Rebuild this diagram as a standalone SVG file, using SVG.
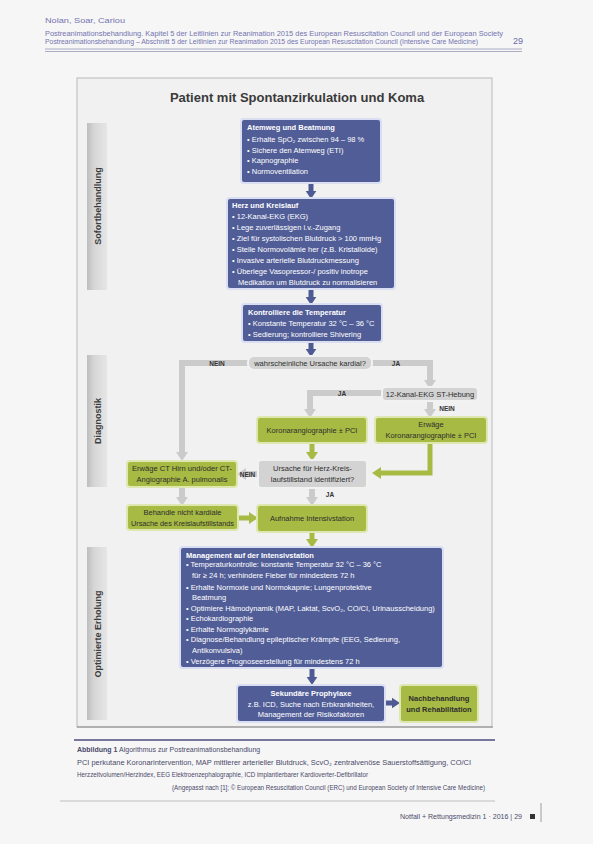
<svg xmlns="http://www.w3.org/2000/svg" width="593" height="844" viewBox="0 0 593 844">
<style>
  text { font-family: "Liberation Sans", Arial, sans-serif; }
  .hdr { font-size: 7px; fill: #7474b0; }
  .title { font-size: 13px; font-weight: bold; fill: #3a3a3a; }
  .side { font-size: 9px; font-weight: bold; fill: #3c3c3c; }
  .pbox { fill: #515d97; stroke: #d9def3; stroke-width: 2; }
  .gbox { fill: #a7ba44; stroke: #dfe7b0; stroke-width: 2; }
  .ybox { fill: #d3d3d3; stroke: #f2f2f2; stroke-width: 2; }
  .wt { font-size: 7.5px; fill: #ffffff; }
  .wtb { font-size: 7.5px; fill: #ffffff; font-weight: bold; }
  .dt { font-size: 7.5px; fill: #2e2e2e; }
  .dtb { font-size: 7.5px; fill: #2e2e2e; font-weight: bold; }
  .lbl { font-size: 6.5px; font-weight: bold; fill: #333333; }
  .c { text-anchor: middle; }
  .cap { font-size: 7px; fill: #4a4a6a; }
  .capb { font-size: 7px; fill: #4a4a6a; font-weight: bold; }
  .grey { fill: none; stroke: #cbcbcb; stroke-width: 6; }
  .green { fill: none; stroke: #a7ba44; stroke-width: 5; }
  .purple { fill: none; stroke: #4e5a94; stroke-width: 5; }
</style>
<defs>
  <linearGradient id="barg" x1="0" y1="0" x2="1" y2="0">
    <stop offset="0" stop-color="#bdbdbd"/>
    <stop offset="0.35" stop-color="#d6d6d6"/>
    <stop offset="1" stop-color="#e6e6e6"/>
  </linearGradient>
  <marker id="ag" viewBox="0 0 9 12" refX="0" refY="6" markerWidth="9" markerHeight="12" markerUnits="userSpaceOnUse" orient="auto">
    <path d="M0,0 L9,6 L0,12 z" fill="#cbcbcb"/>
  </marker>
  <marker id="agr" viewBox="0 0 9 12" refX="0" refY="6" markerWidth="9" markerHeight="12" markerUnits="userSpaceOnUse" orient="auto">
    <path d="M0,0 L9,6 L0,12 z" fill="#a7ba44"/>
  </marker>
  <marker id="ap" viewBox="0 0 9 12" refX="0" refY="6" markerWidth="8" markerHeight="12" markerUnits="userSpaceOnUse" orient="auto">
    <path d="M0,0 L9,6 L0,12 z" fill="#4e5a94"/>
  </marker>
</defs>

<rect x="0" y="0" width="593" height="844" fill="#f6f6f6"/>

<!-- header -->
<g id="header">
  <text class="hdr" x="45" y="23" textLength="80" lengthAdjust="spacingAndGlyphs">Nolan, Soar, Cariou</text>
  <text class="hdr" x="45" y="35.5" textLength="458" lengthAdjust="spacingAndGlyphs">Postreanimationsbehandlung. Kapitel 5 der Leitlinien zur Reanimation 2015 des European Resuscitation Council und der European Society</text>
  <text class="hdr" x="45" y="44" textLength="433" lengthAdjust="spacingAndGlyphs">Postreanimationsbehandlung – Abschnitt 5 der Leitlinien zur Reanimation 2015 des European Resuscitation Council (Intensive Care Medicine)</text>
  <text x="513" y="44" style="font-size:9px;fill:#6a6aa8">29</text>
  <line x1="45" y1="49" x2="522" y2="49" stroke="#9a9ab8" stroke-width="0.8"/>
  <line x1="45" y1="51.5" x2="522" y2="51.5" stroke="#9a9ab8" stroke-width="0.8"/>
</g>

<!-- frame -->
<rect x="77" y="78" width="415" height="649" fill="#f1f1f1" stroke="#b9b9b9" stroke-width="1"/>
<line x1="77" y1="727" x2="493" y2="727" stroke="#8a8a8a" stroke-width="1.2"/>

<text class="title c" x="297" y="102">Patient mit Spontanzirkulation und Koma</text>

<!-- side bars -->
<g id="side-sofort">
  <rect x="87" y="123" width="20" height="167" fill="url(#barg)"/>
  <text class="side c" transform="translate(100.5,206) rotate(-90)">Sofortbehandlung</text>
</g>
<g id="side-diag">
  <rect x="87" y="355" width="20" height="132" fill="url(#barg)"/>
  <text class="side c" transform="translate(100.5,421) rotate(-90)">Diagnostik</text>
</g>
<g id="side-opt">
  <rect x="87" y="547" width="20" height="173" fill="url(#barg)"/>
  <text class="side c" transform="translate(100.5,634) rotate(-90)">Optimierte Erholung</text>
</g>

<!-- connectors -->
<g id="connectors">
  <path class="purple" d="M311,183 V191" marker-end="url(#ap)"/>
  <path class="purple" d="M311,289 V297" marker-end="url(#ap)"/>
  <path class="purple" d="M311,342 V349" marker-end="url(#ap)"/>
  <path class="grey" d="M312,363 H182 V452" marker-end="url(#ag)"/>
  <path class="grey" d="M312,363 H430 V380" marker-end="url(#ag)"/>
  <path class="grey" d="M382,393 H310 V409" marker-end="url(#ag)"/>
  <path class="grey" d="M430,401 V409" marker-end="url(#ag)"/>
  <path class="green" d="M430,443 V473 H381" marker-end="url(#agr)"/>
  <path class="green" d="M312,443 V452" marker-end="url(#agr)"/>
  <path class="grey" d="M258,474 H246" marker-end="url(#ag)"/>
  <path class="grey" d="M312,488 V497" marker-end="url(#ag)"/>
  <path class="grey" d="M182,487 V497" marker-end="url(#ag)"/>
  <path class="green" d="M238,518 H249" marker-end="url(#agr)"/>
  <path class="green" d="M312,532 V539" marker-end="url(#agr)"/>
  <path class="purple" d="M312,668 V677" marker-end="url(#ap)"/>
  <path class="purple" d="M385,703 H392" marker-end="url(#ap)"/>
</g>

<!-- nodes -->
<g id="n-atemweg">
  <rect class="pbox" x="241" y="119" width="140" height="64" rx="3"/>
  <text class="wtb" x="247" y="130">Atemweg und Beatmung</text>
  <text class="wt" x="247" y="142">• Erhalte SpO₂ zwischen 94 – 98 %</text>
  <text class="wt" x="247" y="152.5">• Sichere den Atemweg (ETI)</text>
  <text class="wt" x="247" y="163">• Kapnographie</text>
  <text class="wt" x="247" y="173.5">• Normoventilation</text>
</g>

<g id="n-herz">
  <rect class="pbox" x="227" y="198" width="168" height="91" rx="3"/>
  <text class="wtb" x="232" y="208">Herz und Kreislauf</text>
  <text class="wt" x="232" y="219">• 12-Kanal-EKG (EKG)</text>
  <text class="wt" x="232" y="230">• Lege zuverlässigen i.v.-Zugang</text>
  <text class="wt" x="232" y="241">• Ziel für systolischen Blutdruck &gt; 100 mmHg</text>
  <text class="wt" x="232" y="252">• Stelle Normovolämie her (z.B. Kristalloide)</text>
  <text class="wt" x="232" y="263">• Invasive arterielle Blutdruckmessung</text>
  <text class="wt" x="232" y="274">• Überlege Vasopressor-/ positiv inotrope</text>
  <text class="wt" x="238" y="285">Medikation um Blutdruck zu normalisieren</text>
</g>

<g id="n-temp">
  <rect class="pbox" x="242" y="304" width="140" height="38" rx="3"/>
  <text class="wtb" x="248" y="315">Kontrolliere die Temperatur</text>
  <text class="wt" x="248" y="326">• Konstante Temperatur 32 °C – 36 °C</text>
  <text class="wt" x="248" y="336.5">• Sedierung; kontrolliere Shivering</text>
</g>

<g id="n-kardial">
  <rect class="ybox" x="248" y="356" width="124" height="14" rx="6"/>
  <text class="dt c" x="310" y="366">wahrscheinliche Ursache kardial?</text>
  <text class="lbl c" x="217" y="365.5">NEIN</text>
  <text class="lbl c" x="396" y="365.5">JA</text>
</g>

<g id="n-stemi">
  <rect class="ybox" x="382" y="387" width="96" height="14" rx="4"/>
  <text class="dt c" x="430" y="397">12-Kanal-EKG ST-Hebung</text>
  <text class="lbl c" x="342" y="395.5">JA</text>
  <text class="lbl c" x="447" y="411">NEIN</text>
</g>

<g id="n-pci">
  <rect class="gbox" x="257" y="417" width="110" height="26" rx="3"/>
  <text class="dt c" x="312" y="433">Koronarangiographie ± PCI</text>
</g>

<g id="n-erwaege-pci">
  <rect class="gbox" x="375" y="417" width="112" height="26" rx="3"/>
  <text class="dt c" x="431" y="427">Erwäge</text>
  <text class="dt c" x="431" y="437.5">Koronarangiographie ± PCI</text>
</g>

<g id="n-ursache">
  <rect class="ybox" x="258" y="460" width="109" height="28" rx="3"/>
  <text class="dt c" x="312.5" y="471">Ursache für Herz-Kreis-</text>
  <text class="dt c" x="312.5" y="481.5">laufstillstand identifiziert?</text>
</g>

<g id="n-ct">
  <rect class="gbox" x="127" y="461" width="110" height="26" rx="3"/>
  <text class="dt c" x="182" y="471" textLength="100" lengthAdjust="spacingAndGlyphs">Erwäge CT Hirn und/oder CT-</text>
  <text class="dt c" x="182" y="481.5">Angiographie A. pulmonalis</text>
  <text class="lbl c" x="247.5" y="477">NEIN</text>
</g>

<g id="n-behandle">
  <rect class="gbox" x="127" y="505" width="111" height="25" rx="3"/>
  <text class="dt c" x="182.5" y="514.5">Behandle nicht kardiale</text>
  <text class="dt c" x="182.5" y="525.5" textLength="103" lengthAdjust="spacingAndGlyphs">Ursache des Kreislaufstillstands</text>
</g>

<g id="n-aufnahme">
  <rect class="gbox" x="257" y="505" width="110" height="27" rx="3"/>
  <text class="dt c" x="312" y="521">Aufnahme Intensivstation</text>
  <text class="lbl c" x="330" y="497">JA</text>
</g>

<g id="n-management">
  <rect class="pbox" x="180" y="547" width="263" height="121" rx="3"/>
  <text class="wtb" x="186" y="558">Management auf der Intensivstation</text>
  <text class="wt" x="186" y="567">• Temperaturkontrolle: konstante Temperatur 32 °C – 36 °C</text>
  <text class="wt" x="192" y="578">für ≥ 24 h; verhindere Fieber für mindestens 72 h</text>
  <text class="wt" x="186" y="589.5">• Erhalte Normoxie und Normokapnie; Lungenprotektive</text>
  <text class="wt" x="192" y="599.5">Beatmung</text>
  <text class="wt" x="186" y="611">• Optimiere Hämodynamik (MAP, Laktat, ScvO₂, CO/CI, Urinausscheidung)</text>
  <text class="wt" x="186" y="621">• Echokardiographie</text>
  <text class="wt" x="186" y="632">• Erhalte Normoglykämie</text>
  <text class="wt" x="186" y="642">• Diagnose/Behandlung epileptischer Krämpfe (EEG, Sedierung,</text>
  <text class="wt" x="192" y="652.5">Antikonvulsiva)</text>
  <text class="wt" x="186" y="663.5">• Verzögere Prognoseerstellung für mindestens 72 h</text>
</g>

<g id="n-prophylaxe">
  <rect class="pbox" x="237" y="685" width="148" height="37" rx="3"/>
  <text class="wtb c" x="311" y="696">Sekundäre Prophylaxe</text>
  <text class="wt c" x="311" y="706.5">z.B. ICD, Suche nach Erbkrankheiten,</text>
  <text class="wt c" x="311" y="717">Management der Risikofaktoren</text>
</g>

<g id="n-reha">
  <rect class="gbox" x="400" y="685" width="78" height="37" rx="3"/>
  <text class="dtb c" x="439" y="701">Nachbehandlung</text>
  <text class="dtb c" x="439" y="712">und Rehabilitation</text>
</g>

<!-- caption -->
<g id="caption">
  <line x1="74" y1="740" x2="495" y2="740" stroke="#4c4c7c" stroke-width="1.5"/>
  <text class="cap" x="77" y="751.5"><tspan class="capb">Abbildung 1</tspan> Algorithmus zur Postreanimationsbehandlung</text>
  <text class="cap" x="77" y="765" textLength="394" lengthAdjust="spacingAndGlyphs">PCI perkutane Koronarintervention, MAP mittlerer arterieller Blutdruck, ScvO₂ zentralvenöse Sauerstoffsättigung, CO/CI</text>
  <text class="cap" x="77" y="776.5" textLength="291" lengthAdjust="spacingAndGlyphs">Herzzeitvolumen/Herzindex, EEG Elektroenzephalographie, ICD implantierbarer Kardioverter-Defibrillator</text>
  <text class="cap" x="172" y="790" textLength="313" lengthAdjust="spacingAndGlyphs">(Angepasst nach [1]; © European Resuscitation Council (ERC) und European Society of Intensive Care Medicine)</text>
  <line x1="60" y1="801" x2="495" y2="801" stroke="#b0b0b0" stroke-width="0.8"/>
  <text class="cap" x="400" y="819" textLength="122" lengthAdjust="spacingAndGlyphs">Notfall + Rettungsmedizin 1 · 2016 | 29</text>
  <rect x="530" y="814" width="5" height="5" fill="#333333"/>
  <line x1="541" y1="803" x2="541" y2="822" stroke="#888888" stroke-width="0.8"/>
</g>
</svg>
